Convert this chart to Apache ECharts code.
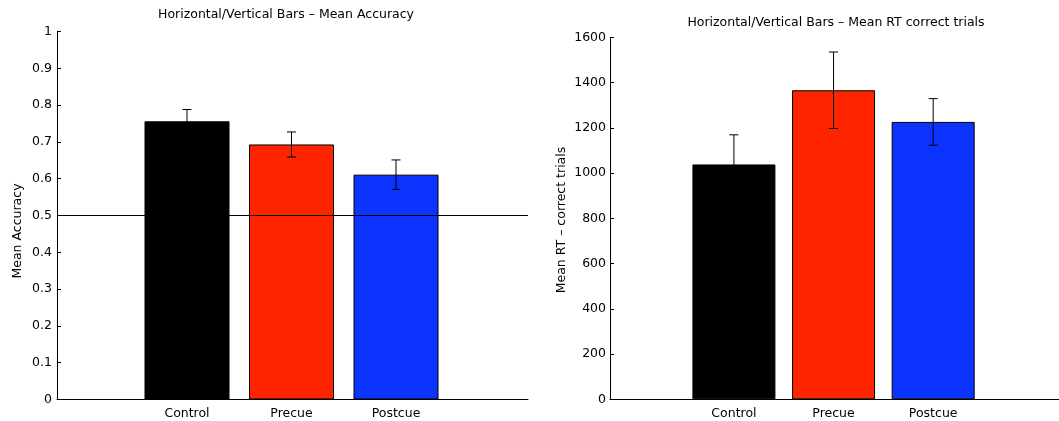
<!DOCTYPE html>
<html>
<head>
<meta charset="utf-8">
<script src="https://cdn.jsdelivr.net/npm/echarts@6/dist/echarts.min.js"></script>
<style>
  html, body { margin: 0; padding: 0; background: #fff; }
  #chart { width: 1059px; height: 421px; }
</style>
</head>
<body>
<div id="chart"></div>
<script>
// Condition labels shared by both panels
const categories = ['Control', 'Precue', 'Postcue'];
const barColors = ['#000000', '#ff2400', '#0d33ff'];

// Mean accuracy per condition with its error (± one SE)
const accMean = [0.756, 0.693, 0.611];
const accErr = [0.032, 0.034, 0.040];
const chanceLevel = 0.5;

// Mean reaction time on correct trials (ms) with its error
const rtMean = [1038, 1366, 1226];
const rtErr = [131, 169, 103];

const titles = [
  'Horizontal/Vertical Bars \u2013 Mean Accuracy',
  'Horizontal/Vertical Bars \u2013 Mean RT correct trials'
];
const yNames = ['Mean Accuracy', 'Mean RT \u2013 correct trials'];

const FONT = 'DejaVu Sans';
const FS = 12.5;

function barData(means) {
  return means.map((v, i) => ({
    value: [i + 1, v],
    itemStyle: { color: barColors[i] }
  }));
}
function errData(means, errs) {
  return means.map((v, i) => [i + 1, v - errs[i], v + errs[i]]);
}
function renderErr(params, api) {
  const x = api.value(0);
  const lo = api.coord([x, api.value(1)]);
  const hi = api.coord([x, api.value(2)]);
  const hw = 4.5;
  const st = { stroke: '#000', lineWidth: 1 };
  return {
    type: 'group',
    children: [
      { type: 'line', shape: { x1: lo[0], y1: lo[1], x2: hi[0], y2: hi[1] }, style: st },
      { type: 'line', shape: { x1: hi[0] - hw, y1: hi[1], x2: hi[0] + hw, y2: hi[1] }, style: st },
      { type: 'line', shape: { x1: lo[0] - hw, y1: lo[1], x2: lo[0] + hw, y2: lo[1] }, style: st }
    ]
  };
}

function xAxisFor(gridIndex) {
  return {
    type: 'value', gridIndex: gridIndex,
    min: -0.244, max: 4.263,
    axisLine: { onZero: false, lineStyle: { color: '#000', width: 1 } },
    axisTick: { show: false },
    splitLine: { show: false },
    axisLabel: {
      customValues: [1, 2, 3],
      formatter: v => categories[Math.round(v) - 1] || '',
      color: '#000', fontFamily: FONT, fontSize: FS, margin: 8
    }
  };
}
function yAxisFor(gridIndex, max, interval, margin, fmt) {
  return {
    type: 'value', gridIndex: gridIndex,
    min: 0, max: max, interval: interval,
    axisLine: { show: true, onZero: false, lineStyle: { color: '#000', width: 1 } },
    axisTick: { show: true, inside: true, length: 4, lineStyle: { color: '#000' } },
    splitLine: { show: false },
    axisLabel: { color: '#000', fontFamily: FONT, fontSize: FS, margin: margin, formatter: fmt }
  };
}

const chart = echarts.init(document.getElementById('chart'), null, { renderer: 'canvas' });
chart.setOption({
  backgroundColor: '#fff',
  animation: false,
  title: [
    { text: titles[0], left: 286, top: 8, textAlign: 'center', padding: 0,
      textStyle: { fontFamily: FONT, fontSize: FS, fontWeight: 'normal', color: '#000' } },
    { text: titles[1], left: 836, top: 16, textAlign: 'center', padding: 0,
      textStyle: { fontFamily: FONT, fontSize: FS, fontWeight: 'normal', color: '#000' } }
  ],
  grid: [
    { left: 57, top: 31.5, width: 471, height: 368 },
    { left: 610, top: 37.3, width: 461, height: 362 }
  ],
  xAxis: [xAxisFor(0), xAxisFor(1)],
  yAxis: [
    yAxisFor(0, 1, 0.1, 5, v => (Math.round(v * 10) / 10).toString()),
    yAxisFor(1, 1600, 200, 4, v => String(v))
  ],
  graphic: [
    { type: 'text', x: 18, y: 231, rotation: Math.PI / 2,
      style: { text: yNames[0], font: FS + 'px "' + FONT + '"', fill: '#000', align: 'center', verticalAlign: 'middle' } },
    { type: 'text', x: 562, y: 220, rotation: Math.PI / 2,
      style: { text: yNames[1], font: FS + 'px "' + FONT + '"', fill: '#000', align: 'center', verticalAlign: 'middle' } }
  ],
  series: [
    {
      type: 'bar', xAxisIndex: 0, yAxisIndex: 0, barWidth: 85,
      itemStyle: { borderColor: '#000', borderWidth: 1 },
      data: barData(accMean),
      markLine: {
        silent: true, symbol: 'none', label: { show: false },
        lineStyle: { color: '#000', width: 1, type: 'solid' },
        data: [{ yAxis: chanceLevel }]
      },
      z: 2
    },
    {
      type: 'custom', xAxisIndex: 0, yAxisIndex: 0,
      renderItem: renderErr, data: errData(accMean, accErr), z: 3
    },
    {
      type: 'bar', xAxisIndex: 1, yAxisIndex: 1, barWidth: 83,
      itemStyle: { borderColor: '#000', borderWidth: 1 },
      data: barData(rtMean), z: 2
    },
    {
      type: 'custom', xAxisIndex: 1, yAxisIndex: 1,
      renderItem: renderErr, data: errData(rtMean, rtErr), z: 3
    }
  ]
});
</script>
</body>
</html>
